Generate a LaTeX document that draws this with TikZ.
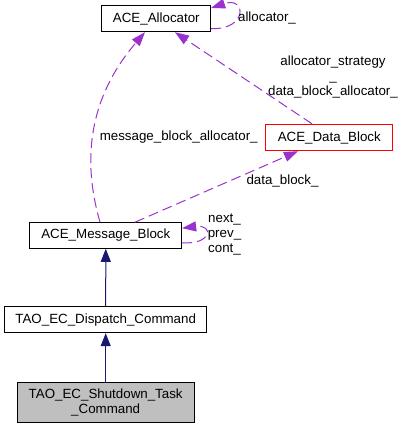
\documentclass[tikz,border=0pt]{standalone}
\usepackage{fontspec}
\setmainfont{Liberation Sans}
\usetikzlibrary{arrows.meta,calc}

\definecolor{inheritblue}{HTML}{191970}
\definecolor{usagepurple}{HTML}{9A32CD}
\definecolor{shadegray}{HTML}{BFBFBF}

\tikzset{every picture/.style={line width=0.75pt}}
\tikzset{
  classbox/.style={draw=black, rectangle, inner sep=0pt, align=center, font=\fontsize{10}{11.25}\selectfont},
  inherit/.style={draw=inheritblue, -{Triangle[length=9.75pt,width=7.5pt]}},
  usage/.style={draw=usagepurple, dash pattern=on 7.5pt off 3.75pt, -{Triangle[length=10.5pt,width=7.5pt]}},
  edgelabel/.style={inner sep=0.75pt, align=center, font=\fontsize{10}{11.25}\selectfont}
}

\begin{document}
\begin{tikzpicture}[x=0.75pt,y=0.75pt,yscale=-1,xscale=1]
\useasboundingbox (0,0) rectangle (405,429);

%Shape: Rectangle [id:alloc]
\node [classbox, minimum width=81.5pt, minimum height=19.8pt] (alloc) at (156.3,18.5) {ACE\_Allocator};
%Shape: Rectangle [id:datablk]
\node [classbox, draw=red, minimum width=95pt, minimum height=19.8pt] (datablk) at (329.3,137.5) {ACE\_Data\_Block};
%Shape: Rectangle [id:msgblk]
\node [classbox, minimum width=113.8pt, minimum height=19.2pt] (msgblk) at (105.8,235.5) {ACE\_Message\_Block};
%Shape: Rectangle [id:dispatch]
\node [classbox, minimum width=151.5pt, minimum height=19.5pt] (dispatch) at (105.7,319.7) {TAO\_EC\_Dispatch\_Command};
%Shape: Rectangle [id:shutdown]
\node [classbox, fill=shadegray, minimum width=132.5pt, minimum height=30pt] (shutdown) at (105.7,402.7) {TAO\_EC\_Shutdown\_Task\\\_Command};

%Straight Lines [id:inherit1]
\draw [inherit] (dispatch.north) -- (msgblk.south);
%Straight Lines [id:inherit2]
\draw [inherit] (shutdown.north) -- (dispatch.south);

%Curve Lines [id:msgalloc]
\draw [usage] ([xshift=-4.35pt]msgblk.north) .. controls +(-12,-42) and +(-67,78) .. ([xshift=-8.5pt]alloc.south);
%Straight Lines [id:msgdata]
\draw [usage] ([xshift=21.9pt]msgblk.north) -- ([xshift=-23.5pt]datablk.south);
%Straight Lines [id:dataalloc]
\draw [usage] ([xshift=-13pt]datablk.north) -- ([xshift=14pt]alloc.south);
%Curve Lines [id:allocloop]
\draw [usage] ([yshift=7.5pt]alloc.east) .. controls +(36,2) and +(36,-12) .. ([yshift=-7.9pt]alloc.east);
%Curve Lines [id:msgloop]
\draw [usage] ([yshift=5.5pt]msgblk.east) .. controls +(30,2) and +(32,-4) .. ([yshift=-5.5pt]msgblk.east);

% Text Node
\node [edgelabel] (lblallocself) at (267,17.5) {allocator\_};
% Text Node
\node [edgelabel] (lblstrategy) at (333,77) {allocator\_strategy\\\_\\data\_block\_allocator\_};
% Text Node
\node [edgelabel] (lblmsgalloc) at (178.7,137) {message\_block\_allocator\_};
% Text Node
\node [edgelabel] (lbldatablk) at (282.5,181) {data\_block\_};
% Text Node
\node [edgelabel] (lblmsgself) at (224.5,235) {next\_\\prev\_\\cont\_};

\end{tikzpicture}
\end{document}
